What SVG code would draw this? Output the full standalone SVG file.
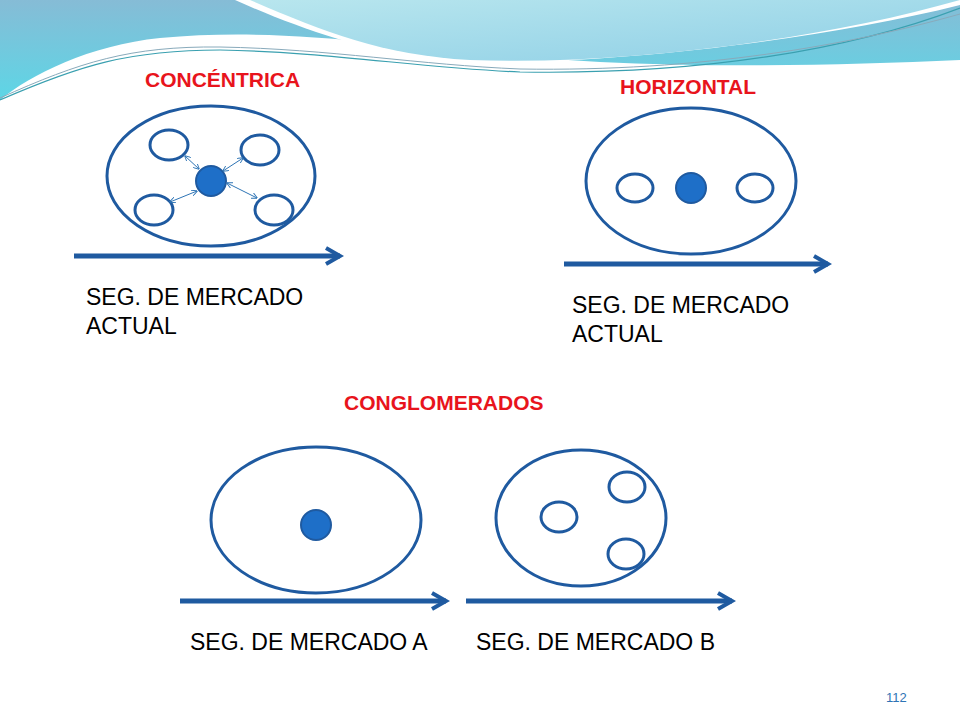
<svg xmlns="http://www.w3.org/2000/svg" width="960" height="720" viewBox="0 0 960 720">
<defs>
<linearGradient id="g1" x1="0" y1="0" x2="0" y2="1"><stop offset="0" stop-color="#86bcd6"/><stop offset="1" stop-color="#5dd6e6"/></linearGradient>
<linearGradient id="g2" x1="0" y1="0" x2="1" y2="1"><stop offset="0" stop-color="#b8e6ee"/><stop offset="1" stop-color="#8ecfe6"/></linearGradient>
<marker id="ah" viewBox="0 0 10 10" refX="9" refY="5" markerWidth="6" markerHeight="6" orient="auto-start-reverse"><path d="M0,0 L10,5 L0,10" fill="none" stroke="#2e74b5" stroke-width="1.5"/></marker>
<marker id="big" viewBox="0 0 10 10" refX="8" refY="5" markerWidth="4" markerHeight="4" orient="auto"><path d="M1,1 L8,5 L1,9" fill="none" stroke="#1f5aa0" stroke-width="2"/></marker>
</defs>
<style>
.t{font-family:"Liberation Sans",Arial,sans-serif;font-size:23px;fill:#000}
.h{font-family:"Liberation Sans",Arial,sans-serif;font-size:21px;font-weight:bold;fill:#e8141c}
.e{fill:#fff;stroke:#1f5aa0;stroke-width:3}
.f{fill:#1e6fc8;stroke:#1f5aa0;stroke-width:2}
.ax{stroke:#1f5aa0;stroke-width:5;fill:none;marker-end:url(#big)}
.s{stroke:#2e74b5;stroke-width:1;marker-start:url(#ah);marker-end:url(#ah)}
</style>
<rect width="960" height="720" fill="#fff"/>
<g id="bg">
<path d="M0,0 H960 V60 C850,65 720,68 600,62 C420,52 300,25 160,38 C90,45 30,75 0,100 Z" fill="url(#g1)"/>
<path d="M235,0 C290,25 360,50 430,60 C560,70 800,45 960,5 V0 Z" fill="#fff"/>
<path d="M250,0 C320,30 380,55 470,60 C620,66 820,40 960,0 Z" fill="url(#g2)"/>
<path d="M0,100 C80,65 130,50 220,50 C330,52 420,68 520,72 C700,75 850,50 960,8" fill="none" stroke="#3aa0b0" stroke-width="1.2"/>
<path d="M0,98 C80,62 130,46 220,47 C330,49 420,65 520,69 C700,72 850,45 960,14" fill="none" stroke="#8ab" stroke-width="1"/>
</g>
<g id="concentrica">
<text class="h" x="145" y="87">CONCÉNTRICA</text>
<ellipse class="e" cx="211" cy="176" rx="104" ry="70"/>
<ellipse class="e" cx="169" cy="145" rx="19" ry="15"/>
<ellipse class="e" cx="260" cy="150" rx="19" ry="15"/>
<ellipse class="e" cx="154" cy="210" rx="19" ry="15"/>
<ellipse class="e" cx="274" cy="210" rx="19" ry="15"/>
<circle class="f" cx="211" cy="181" r="15"/>
<text class="t" x="86" y="305">SEG. DE MERCADO</text>
<text class="t" x="86" y="334">ACTUAL</text>
</g>
<g id="horizontal">
<text class="h" x="620" y="94">HORIZONTAL</text>
<ellipse class="e" cx="691" cy="181" rx="105" ry="73"/>
<ellipse class="e" cx="635" cy="188" rx="18" ry="14"/>
<ellipse class="e" cx="755" cy="188" rx="18" ry="14"/>
<circle class="f" cx="691" cy="188" r="15"/>
<text class="t" x="572" y="313">SEG. DE MERCADO</text>
<text class="t" x="572" y="342">ACTUAL</text>
</g>
<g id="conglomerados">
<text class="h" x="344" y="410">CONGLOMERADOS</text>
<ellipse class="e" cx="316" cy="520" rx="105" ry="73"/>
<circle class="f" cx="316" cy="525" r="15"/>
<ellipse class="e" cx="581" cy="518" rx="85" ry="68"/>
<ellipse class="e" cx="627" cy="487" rx="18" ry="15"/>
<ellipse class="e" cx="559" cy="517" rx="18" ry="15"/>
<ellipse class="e" cx="626" cy="554" rx="18" ry="15"/>
<text class="t" x="190" y="650">SEG. DE MERCADO A</text>
<text class="t" x="476" y="650">SEG. DE MERCADO B</text>
</g>
<g id="connectors">
<line class="s" x1="185" y1="156" x2="199" y2="169"/>
<line class="s" x1="243" y1="158" x2="223" y2="171"/>
<line class="s" x1="170" y1="202" x2="197" y2="191"/>
<line class="s" x1="227" y1="183" x2="257" y2="198"/>
<line class="ax" x1="74" y1="256" x2="340" y2="256"/>
<line class="ax" x1="564" y1="264" x2="828" y2="264"/>
<line class="ax" x1="180" y1="601" x2="446" y2="601"/>
<line class="ax" x1="466" y1="601" x2="732" y2="601"/>
</g>
<text x="886" y="702" font-family="Liberation Sans,Arial,sans-serif" font-size="13" fill="#2e74b5">112</text>
</svg>
